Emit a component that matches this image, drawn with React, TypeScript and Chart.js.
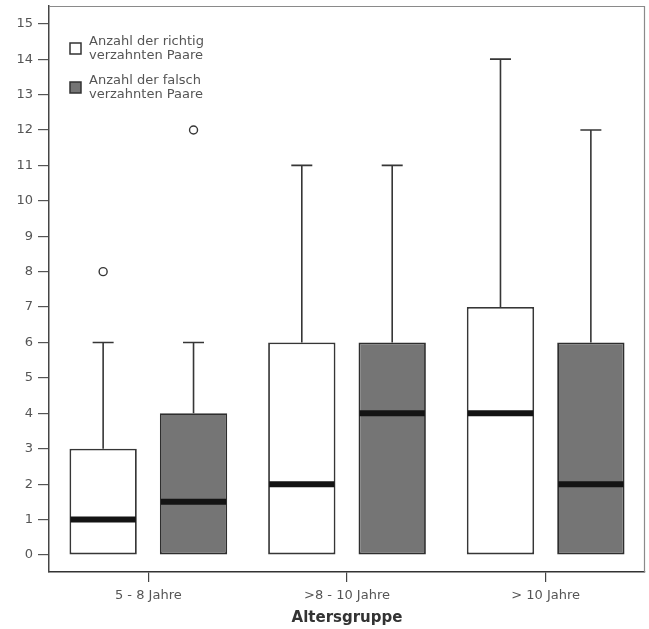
import React, { useEffect, useRef } from "react";
import { Chart, registerables } from "chart.js";

Chart.register(...registerables);

// ---- data ----
const categories = ["5 - 8 Jahre", ">8 - 10 Jahre", "> 10 Jahre"];
const xTitle = "Altersgruppe";
const yTicks = [0, 1, 2, 3, 4, 5, 6, 7, 8, 9, 10, 11, 12, 13, 14, 15];

const richtigLabel = ["Anzahl der richtig", "verzahnten Paare"];
const richtigMin = [0, 0, 0];
const richtigQ1 = [0, 0, 0];
const richtigMedian = [1, 2, 4];
const richtigQ3 = [3, 6, 7];
const richtigMax = [6, 11, 14];
const richtigOutliers = [[8], [], []];

const falschLabel = ["Anzahl der falsch", "verzahnten Paare"];
const falschMin = [0, 0, 0];
const falschQ1 = [0, 0, 0];
const falschMedian = [1.5, 4, 2];
const falschQ3 = [4, 6, 6];
const falschMax = [6, 11, 12];
const falschOutliers = [[12], [], []];

const FONT = "'DejaVu Sans', sans-serif";
const LINE = "#363636";

const boxPlugin = {
  id: "boxExtras",
  afterDatasetsDraw(chart: any) {
    const ctx = chart.ctx;
    const y = chart.scales.y;
    chart.data.datasets.forEach((ds: any, di: number) => {
      const meta = chart.getDatasetMeta(di);
      meta.data.forEach((el: any, i: number) => {
        const cx = el.x;
        const w = el.width;
        const st = ds.stats;
        ctx.save();
        // whiskers
        ctx.strokeStyle = LINE;
        ctx.lineWidth = 1.6;
        const cap = 10.5;
        const drawWhisker = (from: number, to: number) => {
          if (from === to) return;
          const y1 = y.getPixelForValue(from);
          const y2 = y.getPixelForValue(to);
          ctx.beginPath();
          ctx.moveTo(cx, y1);
          ctx.lineTo(cx, y2);
          ctx.moveTo(cx - cap, y2);
          ctx.lineTo(cx + cap, y2);
          ctx.stroke();
        };
        drawWhisker(st.q3[i], st.max[i]);
        drawWhisker(st.q1[i], st.min[i]);
        // median
        const my = y.getPixelForValue(st.median[i]);
        ctx.strokeStyle = "#141414";
        ctx.lineWidth = 6;
        ctx.beginPath();
        ctx.moveTo(cx - w / 2 + 1, my);
        ctx.lineTo(cx + w / 2 - 1, my);
        ctx.stroke();
        // outliers
        ctx.strokeStyle = LINE;
        ctx.fillStyle = "#ffffff";
        ctx.lineWidth = 1.4;
        st.outliers[i].forEach((v: number) => {
          const oy = y.getPixelForValue(v);
          ctx.beginPath();
          ctx.arc(cx, oy, 4, 0, Math.PI * 2);
          ctx.fill();
          ctx.stroke();
        });
        ctx.restore();
      });
    });
  },
  afterDraw(chart: any) {
    const ctx = chart.ctx;
    const a = chart.chartArea;
    ctx.save();
    // frame top/right
    ctx.strokeStyle = "#8a8a8a";
    ctx.lineWidth = 1.2;
    ctx.beginPath();
    ctx.moveTo(a.left, a.top + 0.5);
    ctx.lineTo(a.right - 0.5, a.top + 0.5);
    ctx.lineTo(a.right - 0.5, a.bottom);
    ctx.stroke();
    // legend
    ctx.font = `13px ${FONT}`;
    ctx.textBaseline = "middle";
    ctx.textAlign = "left";
    chart.data.datasets.forEach((ds: any, di: number) => {
      const sx = a.left + 21;
      const sy = a.top + 37 + di * 39;
      ctx.fillStyle = ds.backgroundColor;
      ctx.strokeStyle = "#333";
      ctx.lineWidth = 1.5;
      ctx.fillRect(sx, sy, 11, 11);
      ctx.strokeRect(sx, sy, 11, 11);
      ctx.fillStyle = "#555";
      ds.legendLines.forEach((t: string, li: number) => {
        ctx.fillText(t, sx + 19, sy - 1 + li * 14);
      });
    });
    ctx.restore();
  },
};

export default function App() {
  const ref = useRef<HTMLCanvasElement>(null);
  useEffect(() => {
    if (!ref.current) return;
    const mk = (q1: number[], q3: number[]) => categories.map((_, i) => [q1[i], q3[i]]);
    const chart = new Chart(ref.current, {
      type: "bar",
      data: {
        labels: categories,
        datasets: [
          {
            label: richtigLabel.join(" "),
            data: mk(richtigQ1, richtigQ3) as any,
            backgroundColor: "#ffffff",
            borderColor: LINE,
            borderWidth: 1.8,
            borderSkipped: false,
            categoryPercentage: 0.91,
            barPercentage: 0.745,
            legendLines: richtigLabel,
            stats: { min: richtigMin, q1: richtigQ1, median: richtigMedian, q3: richtigQ3, max: richtigMax, outliers: richtigOutliers },
          } as any,
          {
            label: falschLabel.join(" "),
            data: mk(falschQ1, falschQ3) as any,
            backgroundColor: "#757575",
            borderColor: "#2e2e2e",
            borderWidth: 1.8,
            borderSkipped: false,
            categoryPercentage: 0.91,
            barPercentage: 0.745,
            legendLines: falschLabel,
            stats: { min: falschMin, q1: falschQ1, median: falschMedian, q3: falschQ3, max: falschMax, outliers: falschOutliers },
          } as any,
        ],
      },
      options: {
        responsive: false,
        animation: false,
        layout: { padding: { top: 6, right: 4, left: 0, bottom: 0 } },
        plugins: { legend: { display: false }, tooltip: { enabled: false } },
        scales: {
          x: {
            offset: true,
            grid: { display: true, drawOnChartArea: false, drawTicks: true, tickLength: 10, offset: false, color: "#444", lineWidth: 1.2 },
            border: { display: true, color: "#333", width: 1.5 },
            ticks: { color: "#555", font: { family: FONT, size: 13 }, padding: 6, maxRotation: 0, autoSkip: false },
            title: { display: true, text: xTitle, color: "#333", font: { family: FONT, size: 15, weight: "bold" }, padding: { top: 2, bottom: 2 } },
            afterFit: (s: any) => {
              s.height = 57;
              s.paddingLeft = 0;
              s.paddingRight = 0;
            },
          },
          y: {
            min: -0.48,
            max: 15.5,
            afterBuildTicks: (s: any) => {
              s.ticks = yTicks.map((v) => ({ value: v }));
            },
            grid: { display: true, drawOnChartArea: false, drawTicks: true, tickLength: 11, color: "#555", lineWidth: 1.2 },
            border: { display: true, color: "#444", width: 1.5 },
            ticks: { color: "#555", font: { family: FONT, size: 13 }, padding: 5 },
            afterFit: (s: any) => {
              s.width = 49;
              s.paddingTop = 0;
              s.paddingBottom = 0;
            },
          },
        },
      } as any,
      plugins: [boxPlugin],
    });
    return () => chart.destroy();
  }, []);
  return (
    <div style={{ position: "absolute", left: 0, top: 0, width: 649, height: 629, background: "#fff" }}>
      <canvas ref={ref} width={649} height={629} style={{ display: "block" }} />
    </div>
  );
}
